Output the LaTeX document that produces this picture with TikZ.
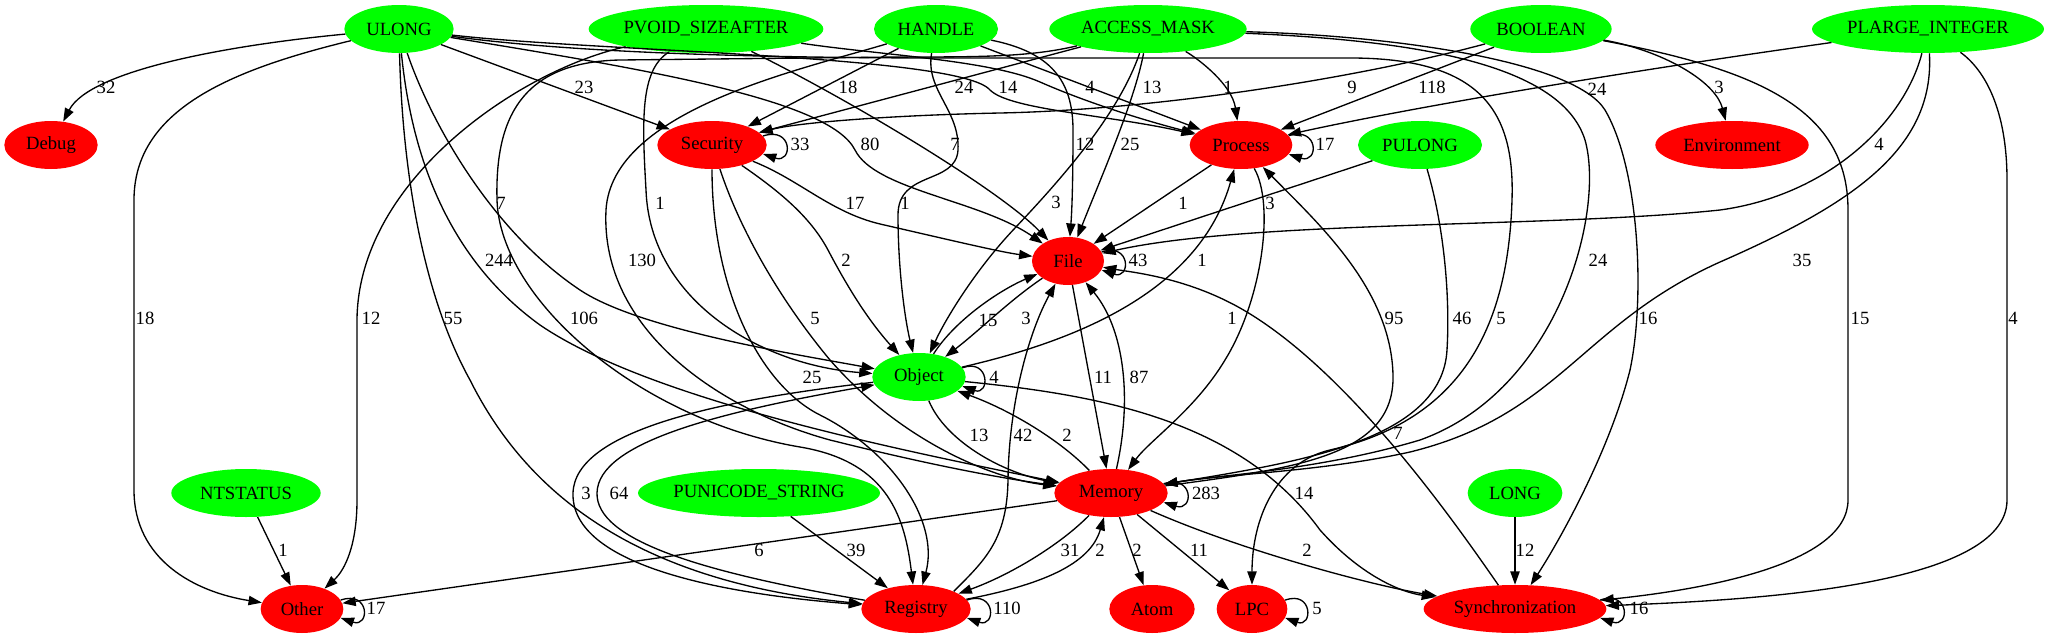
\documentclass[tikz,border=0pt]{standalone}
\usepackage{fontspec}
\setmainfont{Liberation Serif}
\usepackage{xcolor}
\usetikzlibrary{arrows.meta,shapes.geometric}
\definecolor{typegreen}{HTML}{00FF00}
\definecolor{catred}{HTML}{FF0000}
\begin{document}
\begin{tikzpicture}[x=0.75pt,y=-0.75pt,ell/.style={ellipse,inner sep=0pt,minimum height=36pt,font=\fontsize{14}{16}\selectfont},typ/.style={ell,fill=typegreen},cat/.style={ell,fill=catred},lbl/.style={inner sep=0pt,font=\fontsize{14}{16}\selectfont},dep/.style={draw,line width=1pt,-{Triangle[length=10pt,width=7pt]}}]
\useasboundingbox (0,0) rectangle (2053,639);
\node[typ,minimum width=82pt] (ulong) at (399,29) {ULONG};
\node[typ,minimum width=176pt] (pvoid) at (706,29) {PVOID\_SIZEAFTER};
\node[typ,minimum width=93pt] (handle) at (936,29) {HANDLE};
\node[typ,minimum width=148pt] (amask) at (1148,29) {ACCESS\_MASK};
\node[typ,minimum width=106pt] (bool) at (1541,29) {BOOLEAN};
\node[typ,minimum width=174pt] (plarge) at (1928,29) {PLARGE\_INTEGER};
\node[cat,minimum width=70pt] (debug) at (51,145) {Debug};
\node[cat,minimum width=82pt] (sec) at (712,145) {Security};
\node[cat,minimum width=77pt] (proc) at (1241,145) {Process};
\node[typ,minimum width=93pt] (pulong) at (1420,145) {PULONG};
\node[cat,minimum width=115pt] (env) at (1732,145) {Environment};
\node[cat,minimum width=54pt] (file) at (1068,261) {File};
\node[typ,minimum width=70pt] (obj) at (919,377) {Object};
\node[typ,minimum width=112pt] (ntstatus) at (246,493) {NTSTATUS};
\node[typ,minimum width=180pt] (punistr) at (759,493) {PUNICODE\_STRING};
\node[cat,minimum width=85pt] (mem) at (1111,493) {Memory};
\node[typ,minimum width=71pt] (long) at (1515,493) {LONG};
\node[cat,minimum width=62pt] (other) at (302,609) {Other};
\node[cat,minimum width=82pt] (reg) at (916,609) {Registry};
\node[cat,minimum width=64pt] (atom) at (1152,609) {Atom};
\node[cat,minimum width=53pt] (lpc) at (1252,609) {LPC};
\node[cat,minimum width=137pt] (sync) at (1515,609) {Synchronization};
\draw[dep] (ulong) .. controls (230,45) and (90,70) .. (debug) node[lbl] (l1) at (106,87) {32};
\draw[dep] (ulong) .. controls (230,70) and (134,110) .. (134,200) -- (134,490) .. controls (134,560) and (195,592) .. (other) node[lbl] (l2) at (145,318) {18};
\draw[dep] (ulong) -- (sec) node[lbl] (l3) at (584,87) {23};
\draw[dep] (ulong) .. controls (600,52) and (960,55) .. (990,90) .. controls (1010,110) and (1110,115) .. (proc) node[lbl] (l4) at (1008,87) {14};
\draw[dep] (ulong) .. controls (650,70) and (830,100) .. (855,150) .. controls (875,190) and (980,200) .. (file) node[lbl] (l5) at (870,144) {80};
\draw[dep] (ulong) .. controls (430,120) and (490,230) .. (580,290) .. controls (640,330) and (800,355) .. (obj) node[lbl] (l6) at (501,203) {7};
\draw[dep] (ulong) .. controls (412,160) and (450,260) .. (540,325) .. controls (650,400) and (900,450) .. (mem) node[lbl] (l7) at (499,260) {244};
\draw[dep] (ulong) .. controls (402,160) and (420,290) .. (470,380) .. controls (520,480) and (620,580) .. (reg) node[lbl] (l8) at (453,318) {55};
\draw[dep] (ulong) .. controls (580,54) and (780,58) .. (950,58) -- (1350,58) .. controls (1480,58) and (1515,110) .. (1512,200) .. controls (1508,330) and (1460,420) .. (1330,450) .. controls (1275,463) and (1252,520) .. (lpc) node[lbl] (l9) at (1501,318) {5};
\draw[dep] (pvoid) .. controls (520,70) and (358,180) .. (357,320) -- (357,500) .. controls (357,545) and (345,570) .. (other) node[lbl] (l10) at (371,318) {12};
\draw[dep] (pvoid) .. controls (640,70) and (642,120) .. (646,190) .. controls (650,300) and (760,365) .. (obj) node[lbl] (l11) at (660,203) {1};
\draw[dep] (pvoid) .. controls (850,100) and (1000,190) .. (file) node[lbl] (l12) at (955,144) {7};
\draw[dep] (pvoid) .. controls (880,55) and (990,60) .. (1040,82) .. controls (1090,104) and (1150,122) .. (proc) node[lbl] (l13) at (1090,87) {4};
\draw[dep] (handle) -- (sec) node[lbl] (l14) at (848,87) {18};
\draw[dep] (handle) .. controls (800,70) and (612,110) .. (606,210) .. controls (600,330) and (720,410) .. (830,440) .. controls (930,465) and (1000,478) .. (mem) node[lbl] (l15) at (642,260) {130};
\draw[dep] (handle) .. controls (925,90) and (960,110) .. (958,150) .. controls (956,185) and (898,170) .. (898,215) .. controls (898,270) and (905,320) .. (obj) node[lbl] (l16) at (905,203) {1};
\draw[dep] (handle) .. controls (1050,52) and (1073,80) .. (1073,130) .. controls (1073,180) and (1072,210) .. (file) node[lbl] (l17) at (1085,144) {12};
\draw[dep] (handle) -- (proc) node[lbl] (l18) at (1152,87) {13};
\draw[dep] (amask) -- (sec) node[lbl] (l19) at (964,87) {24};
\draw[dep] (amask) .. controls (1030,57) and (980,57) .. (900,57) -- (620,60) .. controls (520,62) and (495,120) .. (497,200) .. controls (500,300) and (640,420) .. (800,447) .. controls (890,462) and (905,520) .. (reg) node[lbl] (l20) at (584,318) {106};
\draw[dep] (amask) .. controls (1120,110) and (1070,170) .. (1015,228) .. controls (975,270) and (945,320) .. (obj) node[lbl] (l21) at (1056,202) {3};
\draw[dep] (amask) .. controls (1135,100) and (1100,180) .. (file) node[lbl] (l22) at (1130,144) {25};
\draw[dep] (amask) .. controls (1200,60) and (1232,85) .. (proc) node[lbl] (l23) at (1228,87) {1};
\draw[dep] (amask) .. controls (1400,40) and (1560,60) .. (1585,140) .. controls (1605,210) and (1560,390) .. (1420,440) .. controls (1320,470) and (1220,475) .. (mem) node[lbl] (l24) at (1598,260) {24};
\draw[dep] (amask) .. controls (1400,36) and (1575,62) .. (1605,110) .. controls (1640,170) and (1645,300) .. (1630,370) .. controls (1610,450) and (1560,540) .. (sync) node[lbl] (l25) at (1648,318) {16};
\draw[dep] (bool) .. controls (1350,80) and (1150,110) .. (1000,113) .. controls (900,115) and (800,122) .. (sec) node[lbl] (l26) at (1352,87) {9};
\draw[dep] (bool) -- (proc) node[lbl] (l27) at (1432,87) {118};
\draw[dep] (bool) .. controls (1660,50) and (1715,80) .. (env) node[lbl] (l28) at (1719,87) {3};
\draw[dep] (bool) .. controls (1760,70) and (1848,110) .. (1848,210) -- (1848,500) .. controls (1848,565) and (1700,590) .. (sync) node[lbl] (l29) at (1860,318) {15};
\draw[dep] (plarge) .. controls (1600,75) and (1400,110) .. (proc) node[lbl] (l30) at (1597,89) {24};
\draw[dep] (plarge) .. controls (1905,120) and (1830,195) .. (1720,210) .. controls (1550,228) and (1250,220) .. (file) node[lbl] (l31) at (1879,144) {4};
\draw[dep] (plarge) .. controls (1935,150) and (1850,205) .. (1720,262) .. controls (1580,325) and (1560,415) .. (1410,452) .. controls (1320,472) and (1225,474) .. (mem) node[lbl] (l32) at (1802,260) {35};
\draw[dep] (plarge) .. controls (1985,70) and (2007,110) .. (2007,180) -- (2007,500) .. controls (2007,585) and (1760,600) .. (sync) node[lbl] (l33) at (2013,318) {4};
\draw[dep] (pulong) -- (file) node[lbl] (l34) at (1270,203) {3};
\draw[dep] (pulong) .. controls (1445,230) and (1450,300) .. (1447,350) .. controls (1442,440) and (1300,462) .. (mem) node[lbl] (l35) at (1462,318) {46};
\draw[dep] (sec.10) .. controls (793,126) and (793,164) .. (sec.-10) node[lbl] (l36) at (800,144) {33};
\draw[dep] (sec) .. controls (800,180) and (830,212) .. (880,224) .. controls (950,240) and (1000,252) .. (file) node[lbl] (l37) at (855,203) {17};
\draw[dep] (sec) .. controls (785,195) and (812,220) .. (828,250) .. controls (848,288) and (868,320) .. (obj) node[lbl] (l38) at (846,260) {2};
\draw[dep] (sec) .. controls (740,230) and (780,300) .. (830,360) .. controls (900,440) and (990,478) .. (mem) node[lbl] (l39) at (815,318) {5};
\draw[dep] (sec) .. controls (712,290) and (760,385) .. (820,415) .. controls (890,450) and (940,520) .. (reg) node[lbl] (l40) at (812,377) {25};
\draw[dep] (proc.11) .. controls (1319,126) and (1319,164) .. (proc.-11) node[lbl] (l41) at (1325,144) {17};
\draw[dep] (proc) -- (file) node[lbl] (l42) at (1183,203) {1};
\draw[dep] (proc) .. controls (1275,205) and (1262,300) .. (1225,360) .. controls (1195,410) and (1150,440) .. (mem) node[lbl] (l43) at (1232,318) {1};
\draw[dep] (file.15) .. controls (1131,242) and (1131,280) .. (file.-15) node[lbl] (l44) at (1138,260) {43};
\draw[dep] (file) .. controls (1010,300) and (980,330) .. (obj) node[lbl] (l45) at (1026,318) {3};
\draw[dep] (file) -- (mem) node[lbl] (l46) at (1103,377) {11};
\draw[dep] (obj.12) .. controls (990,358) and (990,396) .. (obj.-12) node[lbl] (l47) at (994,377) {4};
\draw[dep] (obj) .. controls (955,320) and (1000,290) .. (file) node[lbl] (l48) at (988,320) {15};
\draw[dep] (obj) .. controls (1080,340) and (1200,290) .. (proc) node[lbl] (l49) at (1202,260) {1};
\draw[dep] (obj) .. controls (945,440) and (1000,472) .. (mem) node[lbl] (l50) at (979,435) {13};
\draw[dep] (obj) .. controls (720,400) and (575,430) .. (573,493) .. controls (571,560) and (700,592) .. (reg) node[lbl] (l51) at (586,493) {3};
\draw[dep] (reg) .. controls (700,572) and (596,540) .. (597,493) .. controls (598,442) and (720,412) .. (obj) node[lbl] (l52) at (619,493) {64};
\draw[dep] (obj) .. controls (1100,395) and (1240,420) .. (1320,530) .. controls (1360,575) and (1400,592) .. (sync) node[lbl] (l53) at (1304,493) {14};
\draw[dep] (mem.10) .. controls (1194,474) and (1194,512) .. (mem.-10) node[lbl] (l54) at (1206,493) {283};
\draw[dep] (mem) .. controls (1060,440) and (1010,410) .. (obj) node[lbl] (l55) at (1067,435) {2};
\draw[dep] (mem) .. controls (1132,400) and (1125,330) .. (file) node[lbl] (l56) at (1139,377) {87};
\draw[dep] (mem) .. controls (1300,468) and (1395,455) .. (1393,375) .. controls (1391,290) and (1320,225) .. (proc) node[lbl] (l57) at (1394,318) {95};
\draw[dep] (mem) -- (other) node[lbl] (l58) at (759,550) {6};
\draw[dep] (mem) .. controls (1060,545) and (1010,575) .. (reg) node[lbl] (l59) at (1070,550) {31};
\draw[dep] (reg) .. controls (1040,585) and (1090,565) .. (mem) node[lbl] (l60) at (1100,550) {2};
\draw[dep] (mem) -- (atom) node[lbl] (l61) at (1137,550) {2};
\draw[dep] (mem) -- (lpc) node[lbl] (l62) at (1199,550) {11};
\draw[dep] (mem) .. controls (1240,550) and (1370,585) .. (sync) node[lbl] (l63) at (1307,550) {2};
\draw[dep] (reg.10) .. controls (996,590) and (996,628) .. (reg.-10) node[lbl] (l64) at (1007,608) {110};
\draw[dep] (reg.25) .. controls (985,560) and (1007,540) .. (1008,480) .. controls (1009,400) and (1030,330) .. (file) node[lbl] (l65) at (1023,435) {42};
\draw[dep] (punistr) -- (reg) node[lbl] (l66) at (856,550) {39};
\draw[dep] (ntstatus) -- (other) node[lbl] (l67) at (283,550) {1};
\draw[dep] (long) -- (sync) node[lbl] (l68) at (1525,550) {12};
\draw[dep] (lpc.15) .. controls (1313,590) and (1313,628) .. (lpc.-15) node[lbl] (l69) at (1317,608) {5};
\draw[dep] (other.13) .. controls (370,590) and (370,628) .. (other.-13) node[lbl] (l70) at (376,608) {17};
\draw[dep] (sync.6) .. controls (1630,590) and (1630,628) .. (sync.-6) node[lbl] (l71) at (1639,608) {16};
\draw[dep] (sync) .. controls (1460,530) and (1350,370) .. (1240,308) .. controls (1185,277) and (1130,272) .. (file) node[lbl] (l72) at (1398,433) {7};
\end{tikzpicture}
\end{document}
